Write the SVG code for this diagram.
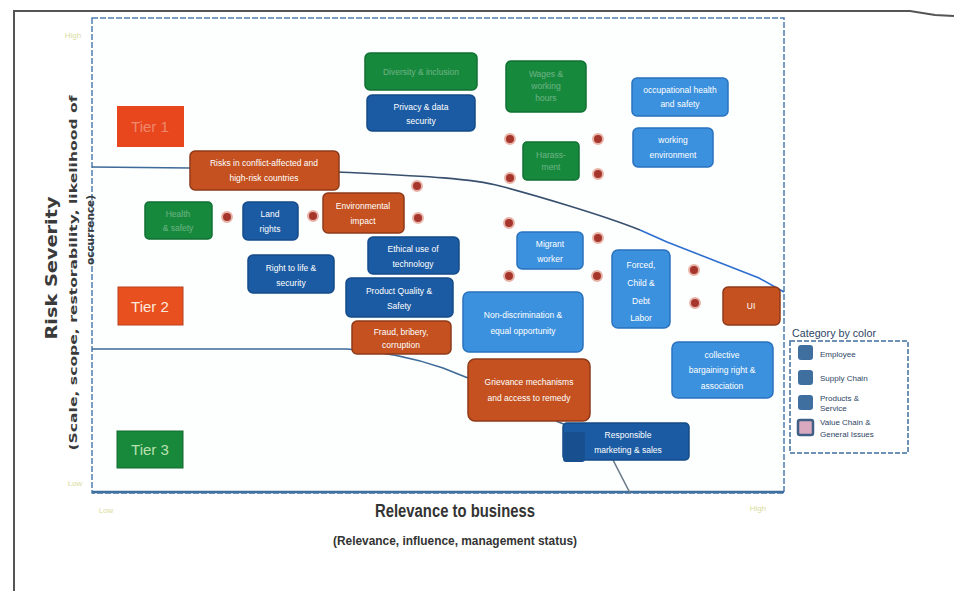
<svg xmlns="http://www.w3.org/2000/svg" width="954" height="591" viewBox="0 0 954 591">
<defs>
<style>
.bx{stroke-width:1.5}
.gr{fill:#17893d;stroke:#117033}
.db{fill:#1b5ba3;stroke:#154b88}
.lb{fill:#3b91de;stroke:#2a72bd}
.or{fill:#c4511f;stroke:#8e3a1a}
.t{font-family:"Liberation Sans",Arial,sans-serif;font-size:8.5px;fill:#ffffff;text-anchor:middle}
.f{opacity:0.35}
.tier{font-family:"Liberation Sans",Arial,sans-serif;font-size:15px;text-anchor:middle}
.dot{fill:#a6362c;stroke:#e7b3a8;stroke-width:2}
.lg{font-family:"Liberation Sans",Arial,sans-serif;font-size:8px;fill:#2d4564}
.faint{font-family:"Liberation Sans",Arial,sans-serif;font-size:8px;fill:#d9dca0}
</style>
</defs>
<rect width="954" height="591" fill="#ffffff"/>
<!-- page border -->
<path d="M14,591 L14,11 L910,11 L935,15 L954,16" fill="none" stroke="#555" stroke-width="2"/>
<!-- chart frame -->
<rect x="92" y="18" width="692" height="475" fill="#fdfefe" stroke="#4f7fae" stroke-width="1.5" stroke-dasharray="6 2"/>
<line x1="92" y1="492" x2="784" y2="492" stroke="#3f6f9f" stroke-width="2.5"/>
<!-- axis labels -->
<text class="faint" x="73" y="38" text-anchor="middle">High</text>
<text class="faint" x="75" y="486" text-anchor="middle">Low</text>
<text class="faint" x="106" y="513" text-anchor="middle">Low</text>
<text class="faint" x="758" y="511" text-anchor="middle">High</text>
<text x="52" y="268" transform="rotate(-90 52 268)" font-family="DejaVu Sans,sans-serif" font-weight="bold" font-size="16" fill="#3a3a3a" text-anchor="middle" dominant-baseline="middle" textLength="143" lengthAdjust="spacingAndGlyphs">Risk Severity</text>
<text x="74" y="273" transform="rotate(-90 74 273)" font-family="DejaVu Sans,sans-serif" font-weight="bold" font-size="11" fill="#3a3a3a" text-anchor="middle" dominant-baseline="middle" textLength="355" lengthAdjust="spacingAndGlyphs">(Scale, scope, restorability, likelihood of</text>
<text x="91" y="230" transform="rotate(-90 91 230)" font-family="DejaVu Sans,sans-serif" font-weight="bold" font-size="11" fill="#3a3a3a" text-anchor="middle" dominant-baseline="middle" textLength="70" lengthAdjust="spacingAndGlyphs">occurrence)</text>
<text x="455" y="517" font-family="Liberation Sans,Arial,sans-serif" font-weight="bold" font-size="18" fill="#333" text-anchor="middle" textLength="160" lengthAdjust="spacingAndGlyphs">Relevance to business</text>
<text x="455" y="545" font-family="Liberation Sans,Arial,sans-serif" font-weight="bold" font-size="12" fill="#333" text-anchor="middle" textLength="244" lengthAdjust="spacingAndGlyphs">(Relevance, influence, management status)</text>
<!-- connectors: tier boundaries -->
<g id="connectors" fill="none" stroke-width="1.6">
<path d="M92,167 L190,168" stroke="#3d6a98"/>
<path d="M339,172 C420,176 470,178 500,186 S600,214 640,230" stroke="#37506e"/>
<path d="M640,230 L667,242 L759,278 L784,292" stroke="#2d6ed0"/>
<path d="M92,349 L347,349 C390,352 420,360 443,368 L468,378" stroke="#3d6a98"/>
<path d="M556,421 L566,425" stroke="#4a6a8a"/>
<path d="M613,460 L630,493" stroke="#6a7a8a"/>
</g>
<!-- tiers -->
<g id="tier1"><rect x="117" y="106" width="67" height="41" fill="#e8461c"/><text class="tier f" x="150" y="132" fill="#fff">Tier 1</text></g>
<g id="tier2"><rect x="118" y="287" width="65" height="38" fill="#e9501f" stroke="#b8401a" stroke-width="1"/><text class="tier" x="150" y="312" fill="#fde9dc">Tier 2</text></g>
<g id="tier3"><rect x="117" y="431" width="66" height="37" fill="#18883b" stroke="#106b2e" stroke-width="1"/><text class="tier" x="150" y="455" fill="#b9e0b0">Tier 3</text></g>
<!-- nodes -->
<g id="n-green1"><rect class="bx gr" x="365" y="53" width="112" height="37" rx="5"/><text class="t f" x="421" y="75">Diversity &amp; inclusion</text></g>
<g id="n-privacy"><rect class="bx db" x="367" y="95" width="108" height="36" rx="5"/><text class="t" x="421" y="110">Privacy &amp; data</text><text class="t" x="421" y="124">security</text></g>
<g id="n-green3"><rect class="bx gr" x="506" y="61" width="80" height="51" rx="5"/><text class="t f" x="546" y="77">Wages &amp;</text><text class="t f" x="546" y="89">working</text><text class="t f" x="546" y="101">hours</text></g>
<g id="n-green4"><rect class="bx gr" x="523" y="142" width="56" height="38" rx="4"/><text class="t f" x="551" y="158">Harass-</text><text class="t f" x="551" y="170">ment</text></g>
<g id="n-ohs"><rect class="bx lb" x="632" y="78" width="96" height="38" rx="5"/><text class="t" x="680" y="93">occupational health</text><text class="t" x="680" y="107">and safety</text></g>
<g id="n-working"><rect class="bx lb" x="633" y="128" width="80" height="39" rx="5"/><text class="t" x="673" y="143">working</text><text class="t" x="673" y="158">environment</text></g>
<g id="n-risks"><rect class="bx or" x="190" y="151" width="149" height="39" rx="5"/><text class="t" x="264" y="166">Risks in conflict-affected and</text><text class="t" x="264" y="181">high-risk countries</text></g>
<g id="n-green5"><rect class="bx gr" x="145" y="202" width="67" height="37" rx="4"/><text class="t f" x="178" y="217">Health</text><text class="t f" x="178" y="231">&amp; safety</text></g>
<g id="n-land"><rect class="bx db" x="243" y="202" width="55" height="38" rx="5"/><text class="t" x="270" y="217">Land</text><text class="t" x="270" y="232">rights</text></g>
<g id="n-env"><rect class="bx or" x="323" y="193" width="81" height="40" rx="5"/><text class="t" x="363" y="209">Environmental</text><text class="t" x="363" y="224">impact</text></g>
<g id="n-ethical"><rect class="bx db" x="368" y="237" width="91" height="37" rx="5"/><text class="t" x="413" y="252">Ethical use of</text><text class="t" x="413" y="267">technology</text></g>
<g id="n-life"><rect class="bx db" x="248" y="255" width="86" height="38" rx="5"/><text class="t" x="291" y="271">Right to life &amp;</text><text class="t" x="291" y="286">security</text></g>
<g id="n-quality"><rect class="bx db" x="346" y="278" width="107" height="39" rx="5"/><text class="t" x="399" y="294">Product Quality &amp;</text><text class="t" x="399" y="309">Safety</text></g>
<g id="n-fraud"><rect class="bx or" x="352" y="321" width="99" height="33" rx="5"/><text class="t" x="401" y="335">Fraud, bribery,</text><text class="t" x="401" y="348">corruption</text></g>
<g id="n-migrant"><rect class="bx lb" x="517" y="232" width="66" height="37" rx="5"/><text class="t" x="550" y="247">Migrant</text><text class="t" x="550" y="262">worker</text></g>
<g id="n-nondisc"><rect class="bx lb" x="463" y="292" width="120" height="60" rx="6"/><text class="t" x="523" y="318">Non-discrimination &amp;</text><text class="t" x="523" y="334">equal opportunity</text></g>
<g id="n-forced"><rect class="bx lb" x="612" y="250" width="58" height="78" rx="6"/><text class="t" x="641" y="268">Forced,</text><text class="t" x="641" y="286">Child &amp;</text><text class="t" x="641" y="304">Debt</text><text class="t" x="641" y="321">Labor</text></g>
<g id="n-ui"><rect class="bx or" x="723" y="287" width="57" height="38" rx="5"/><text class="t" x="751" y="309">UI</text></g>
<g id="n-collective"><rect class="bx lb" x="672" y="342" width="101" height="56" rx="6"/><text class="t" x="722" y="358">collective</text><text class="t" x="722" y="373">bargaining right &amp;</text><text class="t" x="722" y="389">association</text></g>
<g id="n-grievance"><rect class="bx or" x="468" y="359" width="122" height="62" rx="7"/><text class="t" x="529" y="385">Grievance mechanisms</text><text class="t" x="529" y="401">and access to remedy</text></g>
<g id="n-marketing"><rect class="bx db" x="563" y="423" width="126" height="37" rx="4"/><rect x="563" y="432" width="22" height="30" rx="3" fill="#174f8f"/><text class="t" x="628" y="438">Responsible</text><text class="t" x="628" y="453">marketing &amp; sales</text></g>
<!-- dots -->
<g id="dots">
<circle class="dot" cx="227" cy="217" r="5"/><circle class="dot" cx="313" cy="216" r="5"/>
<circle class="dot" cx="417" cy="186" r="5"/><circle class="dot" cx="418" cy="218" r="5"/>
<circle class="dot" cx="510" cy="139" r="5"/><circle class="dot" cx="598" cy="139" r="5"/>
<circle class="dot" cx="510" cy="178" r="5"/><circle class="dot" cx="598" cy="174" r="5"/>
<circle class="dot" cx="509" cy="223" r="5"/><circle class="dot" cx="598" cy="238" r="5"/>
<circle class="dot" cx="509" cy="276" r="5"/><circle class="dot" cx="597" cy="276" r="5"/>
<circle class="dot" cx="694" cy="270" r="5"/><circle class="dot" cx="695" cy="303" r="5"/>
</g>
<!-- legend -->
<g id="legend">
<text x="792" y="337" font-family="Liberation Sans,Arial,sans-serif" font-size="11" fill="#2d4564" textLength="84" lengthAdjust="spacingAndGlyphs">Category by color</text>
<rect x="790" y="341" width="118" height="112" fill="#fff" stroke="#3f6f9f" stroke-width="1.5" stroke-dasharray="5 2"/>
<rect x="798" y="345" width="15" height="15" rx="3" fill="#3f6f9f"/>
<rect x="798" y="370" width="15" height="15" rx="3" fill="#3f6f9f"/>
<rect x="798" y="395" width="15" height="15" rx="3" fill="#3f6f9f"/>
<rect x="798" y="420" width="15" height="15" rx="2" fill="#d9a9c0" stroke="#3f5f85" stroke-width="2.5"/>
<text class="lg" x="820" y="357">Employee</text>
<text class="lg" x="820" y="381">Supply Chain</text>
<text class="lg" x="820" y="401">Products &amp;</text>
<text class="lg" x="820" y="411">Service</text>
<text class="lg" x="820" y="425">Value Chain &amp;</text>
<text class="lg" x="820" y="437">General Issues</text>
</g>
</svg>
